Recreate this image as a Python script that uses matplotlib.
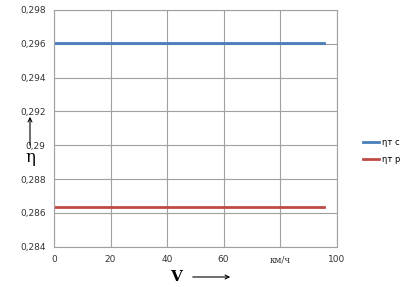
import matplotlib
matplotlib.use('Agg')
import matplotlib.pyplot as plt
from matplotlib.patches import FancyArrowPatch
from matplotlib.ticker import FuncFormatter

# speed, km/h
v = [0, 95.5]
eta_tc = [0.29607, 0.29607]
eta_tp = [0.28635, 0.28635]
labels = ['ηт с', 'ηт р']

y_ticks = [0.284, 0.286, 0.288, 0.29, 0.292, 0.294, 0.296, 0.298]
x_ticks = [0, 20, 40, 60, 80, 100]
x_ticklabels = ['0', '20', '40', '60', 'км/ч', '100']

plt.rcParams['font.family'] = ['DejaVu Sans']

W, H = 401, 287
fig = plt.figure(figsize=(W / 100, H / 100), dpi=100)
ax = fig.add_axes([54 / W, 1 - 246.7 / H, (336.7 - 54) / W, (246.7 - 10) / H])

ax.plot(v, eta_tc, color='#4a7ebb', linewidth=2, label=labels[0])
ax.plot(v, eta_tp, color='#be4b48', linewidth=2, label=labels[1])

ax.set_xlim(0, 100)
ax.set_ylim(0.284, 0.298)
ax.set_xticks(x_ticks)
ax.set_xticklabels(x_ticklabels)
ax.set_yticks(y_ticks)
ax.yaxis.set_major_formatter(FuncFormatter(lambda y, p: ('%g' % round(y, 3)).replace('.', ',')))
ax.tick_params(length=0, labelsize=6.5, colors='#333333', pad=6)
# units label looks like a serif font in the original
kmh = ax.get_xticklabels()[4]
kmh.set_family('DejaVu Serif')
kmh.set_fontsize(6.5)
ax.grid(True, color='#a0a0a0', linewidth=0.8)
for s in ax.spines.values():
    s.set_color('#a0a0a0')
    s.set_linewidth(0.8)
ax.set_axisbelow(True)

# legend to the right
fig.legend(loc='upper left', bbox_to_anchor=(355 / W, 1 - 130 / H), frameon=False,
           fontsize=6, handlelength=2.0, handletextpad=0.3, labelspacing=1.0)

# axis labels with arrows
fig.text(30 / W, 1 - 158 / H, 'η', fontsize=12, ha='center', va='center', family='DejaVu Serif')
fig.add_artist(FancyArrowPatch((30 / W, 1 - 148 / H), (30 / W, 1 - 114 / H),
               transform=fig.transFigure, arrowstyle='->', mutation_scale=7, linewidth=0.8, color='black'))
fig.text(176 / W, 1 - 277 / H, 'V', fontsize=11, ha='center', va='center', family='DejaVu Serif', weight='bold')
fig.add_artist(FancyArrowPatch((190 / W, 1 - 277 / H), (233 / W, 1 - 277 / H),
               transform=fig.transFigure, arrowstyle='->', mutation_scale=7, linewidth=0.8, color='black'))

fig.savefig('out.png', dpi=100)
